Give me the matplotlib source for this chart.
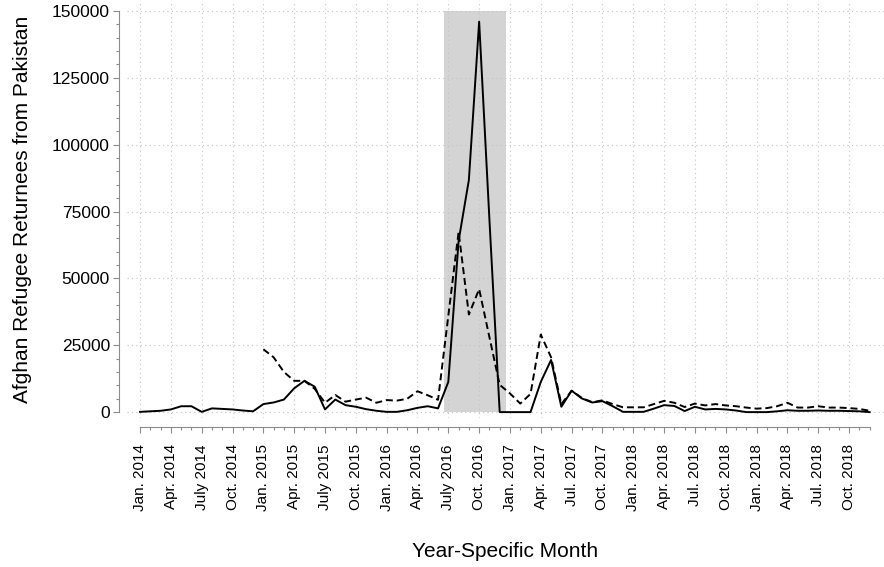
import numpy as np
import matplotlib
matplotlib.use("Agg")
import matplotlib.pyplot as plt
from matplotlib.ticker import FixedLocator

plt.rcParams['font.family'] = ['Liberation Sans', 'DejaVu Sans']

# Month index 0 = Jan. 2014
months = np.arange(72)

returnees_solid = [
    100, 300, 500, 1000, 2200, 2200, 100, 1400, 1200, 1000, 600, 300,
    3000, 3600, 4700, 8900, 11700, 9500, 1000, 4700, 2600, 2000, 1100, 500,
    100, 100, 700, 1600, 2200, 1400, 11300, 64000, 86800, 146000, 72000, 0,
    0, 0, 0, 11300, 19500, 2000, 8000, 5100, 3600, 4100, 2200, 100,
    100, 100, 1300, 2600, 2300, 400, 2000, 1000, 1200, 1000, 600, 0,
    0, 0, 300, 700, 500, 500, 600, 500, 500, 400, 300, 0,
]

returnees_dashed = [np.nan] * 12 + [
    23500, 20500, 15000, 11700, 11700, 8700, 3500, 6400, 3900, 4700, 5400, 3500,
    4500, 4300, 5000, 7800, 6300, 4600, 36000, 67400, 36500, 46000, 28000, 10200,
    7000, 3200, 6800, 29000, 20500, 3000, 8000, 5300, 3700, 4400, 3000, 1800,
    1800, 1800, 3000, 4200, 3500, 1900, 3200, 2500, 3000, 2500, 2200, 1700,
    1300, 1500, 2200, 3500, 1700, 1700, 2200, 1700, 1700, 1500, 1200, 500,
]

x_tick_labels = [
    "Jan. 2014", "Apr. 2014", "July 2014", "Oct. 2014",
    "Jan. 2015", "Apr. 2015", "July 2015", "Oct. 2015",
    "Jan. 2016", "Apr. 2016", "July 2016", "Oct. 2016",
    "Jan. 2017", "Apr. 2017", "Jul. 2017", "Oct. 2017",
    "Jan. 2018", "Apr. 2018", "Jul. 2018", "Oct. 2018",
    "Jan. 2018", "Apr. 2018", "Jul. 2018", "Oct. 2018",
]
x_tick_pos = list(range(0, 72, 3))

y_ticks = [0, 25000, 50000, 75000, 100000, 125000, 150000]
y_tick_labels = ["0", "25000", "50000", "75000", "100000", "125000", "150000"]

# shaded period (month index) and its height
shade_start, shade_end = 29.6, 35.6
shade_top = 150000

W, H = 884, 567
fig = plt.figure(figsize=(W / 100, H / 100), dpi=100)
ax = fig.add_axes([127 / W, (H - 418) / H, 757 / W, 418 / H])
ax.set_xlim(-1.27, 72.4)
ax.set_ylim(-2200, 154100)

ax.fill_between([shade_start, shade_end], 0, shade_top, color='#d4d4d4',
                linewidth=0, zorder=0.2)

ax.plot(months, returnees_solid, color='black', linewidth=1.4, zorder=3)
ax.plot(months, returnees_dashed, color='black', linewidth=1.4,
        linestyle=(0, (3.6, 2.0)), zorder=3)

ax.set_axisbelow(True)
ax.grid(True, which='major', linestyle=(0, (1, 3)), color='#c4c4c4', linewidth=0.8)

for s in ['top', 'right']:
    ax.spines[s].set_visible(False)
ax.spines['left'].set_position(('outward', 5.8))
ax.spines['bottom'].set_position(('outward', 6.5))
ax.spines['left'].set_bounds(0, 150000)
ax.spines['bottom'].set_bounds(0, 71)
for s in ['left', 'bottom']:
    ax.spines[s].set_color('#8c8c8c')
    ax.spines[s].set_linewidth(0.8)

ax.set_xticks(x_tick_pos)
ax.set_xticklabels(x_tick_labels, rotation=90, fontsize=11)
ax.xaxis.set_minor_locator(FixedLocator(list(range(0, 72))))
ax.set_yticks(y_ticks)
ax.set_yticklabels(y_tick_labels, fontsize=12.5)
ax.yaxis.set_minor_locator(FixedLocator(list(range(0, 150001, 5000))))

ax.tick_params(axis='both', which='both', direction='out', color='#8c8c8c', width=0.8)
ax.tick_params(axis='x', which='major', length=4.3, pad=8)
ax.tick_params(axis='x', which='minor', length=2.2)
ax.tick_params(axis='y', which='major', length=4.3, pad=2.2)
ax.tick_params(axis='y', which='minor', length=2.2)

ax.set_xlabel("Year-Specific Month", fontsize=15)
ax.xaxis.set_label_coords(0.5, -0.296)
ax.set_ylabel("Afghan Refugee Returnees from Pakistan", fontsize=15)
ax.yaxis.set_label_coords(-0.125, 0.5)

fig.savefig("out.png", dpi=100)
